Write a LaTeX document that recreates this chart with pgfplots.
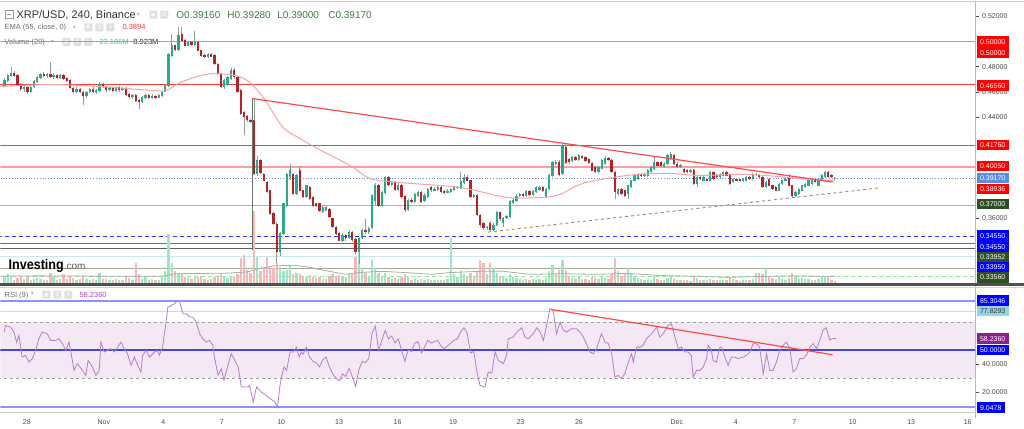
\documentclass[border=0pt]{standalone}
\usepackage{fontspec}
\setmainfont{Liberation Sans}
\newfontfamily\dejavu{DejaVu Sans}
\usepackage{graphicx}
\usepackage{pgfplots}
\usepackage{pgfplotstable}
\pgfplotsset{compat=1.18}

\definecolor{upc}{HTML}{2BAA8A}
\definecolor{dnc}{HTML}{B3232A}
\definecolor{wickc}{HTML}{8E9E8E}
\definecolor{volup}{HTML}{A3E4C8}
\definecolor{voldn}{HTML}{F6B9B9}
\definecolor{emac}{HTML}{F5A3A3}
\definecolor{trendred}{HTML}{FF4A4A}
\definecolor{hred}{HTML}{FF3C3C}
\definecolor{hblue}{HTML}{3535FF}
\definecolor{hgreen}{HTML}{A9B5A0}
\definecolor{hdkgreen}{HTML}{56665A}
\definecolor{hcyan}{HTML}{C6EAF2}
\definecolor{hgreentwo}{HTML}{A3AE9A}
\definecolor{hlime}{HTML}{8CF08C}
\definecolor{dotblue}{HTML}{6A84F0}
\definecolor{tickc}{HTML}{4A4A4A}
\definecolor{axc}{HTML}{B8B8B8}
\definecolor{rsifill}{HTML}{F3E8F3}
\definecolor{rsic}{HTML}{B77DCB}
\definecolor{rsiblue}{HTML}{8F8FFF}
\definecolor{rsimid}{HTML}{4545DD}
\definecolor{boxred}{HTML}{FF0000}
\definecolor{boxblue}{HTML}{0000FF}
\definecolor{boxlblue}{HTML}{5C8BE0}
\definecolor{boxgreen}{HTML}{2F4F22}
\definecolor{boxpurple}{HTML}{8E1F8E}
\definecolor{boxcyan}{HTML}{8FD5E2}
\definecolor{legc}{HTML}{6B6B6B}
\definecolor{ohlcc}{HTML}{3E7F3E}
\definecolor{iconc}{HTML}{E0E0E0}
\definecolor{sepc}{HTML}{505050}

% 4h candles: open close high low volume(M)
\pgfplotstableread{
o c h l v
0.4650 0.4689 0.4710 0.4640 20
0.4689 0.4729 0.4745 0.4680 30
0.4729 0.4750 0.4795 0.4720 25
0.4750 0.4730 0.4765 0.4720 12
0.4730 0.4660 0.4740 0.4650 18
0.4660 0.4625 0.4670 0.4605 26
0.4625 0.4640 0.4650 0.4600 14
0.4640 0.4600 0.4650 0.4585 20
0.4600 0.4640 0.4650 0.4590 12
0.4640 0.4680 0.4690 0.4630 15
0.4680 0.4715 0.4725 0.4670 18
0.4715 0.4740 0.4750 0.4705 14
0.4740 0.4725 0.4760 0.4715 10
0.4725 0.4740 0.4750 0.4710 12
0.4740 0.4720 0.4835 0.4710 33
0.4720 0.4735 0.4750 0.4705 22
0.4735 0.4715 0.4745 0.4705 12
0.4715 0.4730 0.4745 0.4705 15
0.4730 0.4705 0.4740 0.4695 30
0.4705 0.4690 0.4720 0.4680 14
0.4690 0.4630 0.4700 0.4620 25
0.4630 0.4600 0.4640 0.4590 18
0.4600 0.4620 0.4635 0.4590 10
0.4620 0.4600 0.4630 0.4590 14
0.4600 0.4565 0.4610 0.4492 28
0.4565 0.4600 0.4610 0.4555 16
0.4600 0.4620 0.4630 0.4590 12
0.4620 0.4600 0.4635 0.4590 14
0.4600 0.4610 0.4625 0.4585 10
0.4610 0.4660 0.4675 0.4600 36
0.4660 0.4640 0.4670 0.4630 15
0.4640 0.4615 0.4650 0.4600 14
0.4615 0.4630 0.4645 0.4605 10
0.4630 0.4605 0.4640 0.4595 12
0.4605 0.4635 0.4645 0.4595 14
0.4635 0.4615 0.4645 0.4600 10
0.4615 0.4625 0.4640 0.4605 12
0.4625 0.4580 0.4635 0.4570 20
0.4580 0.4560 0.4590 0.4545 18
0.4560 0.4575 0.4585 0.4540 12
0.4575 0.4530 0.4580 0.4520 66
0.4530 0.4520 0.4545 0.4465 30
0.4520 0.4555 0.4565 0.4510 15
0.4555 0.4570 0.4580 0.4545 25
0.4570 0.4550 0.4585 0.4540 12
0.4550 0.4565 0.4580 0.4545 14
0.4565 0.4555 0.4575 0.4545 10
0.4555 0.4570 0.4580 0.4550 12
0.4570 0.4600 0.4610 0.4560 20
0.4600 0.4650 0.4665 0.4595 40
0.4650 0.4901 0.4910 0.4640 162
0.4888 0.4967 0.5059 0.4880 66
0.4967 0.4930 0.4975 0.4920 40
0.4930 0.5046 0.5112 0.4925 36
0.5060 0.5007 0.5112 0.5000 30
0.5007 0.4967 0.5015 0.4960 20
0.4967 0.4990 0.5000 0.4960 18
0.4990 0.4975 0.5000 0.4965 15
0.4975 0.4993 0.5085 0.4965 22
0.4993 0.4928 0.5000 0.4920 20
0.4928 0.4888 0.4935 0.4880 25
0.4888 0.4880 0.4900 0.4870 15
0.4880 0.4900 0.4910 0.4870 12
0.4900 0.4880 0.4910 0.4875 14
0.4890 0.4822 0.4900 0.4815 22
0.4822 0.4743 0.4830 0.4735 28
0.4743 0.4637 0.4750 0.4630 35
0.4637 0.4690 0.4700 0.4625 20
0.4660 0.4716 0.4725 0.4650 18
0.4703 0.4775 0.4785 0.4695 25
0.4775 0.4716 0.4785 0.4705 20
0.4716 0.4597 0.4725 0.4590 30
0.4610 0.4426 0.4620 0.4420 85
0.4440 0.4400 0.4450 0.4254 95
0.4410 0.4375 0.4420 0.4360 43
0.4375 0.4360 0.4385 0.4350 35
0.4373 0.3953 0.4547 0.3940 238
0.3953 0.4060 0.4090 0.3930 86
0.4060 0.3960 0.4070 0.3950 40
0.3950 0.3898 0.3960 0.3890 50
0.3884 0.3805 0.3895 0.3795 86
0.3818 0.3634 0.3825 0.3625 53
0.3634 0.3554 0.3645 0.3545 50
0.3554 0.3330 0.3565 0.3240 66
0.3330 0.3475 0.3485 0.3300 55
0.3475 0.3713 0.3720 0.3465 40
0.3700 0.3950 0.3960 0.3690 45
0.3924 0.3977 0.4030 0.3900 60
0.3950 0.3792 0.3960 0.3780 30
0.3792 0.3937 0.3945 0.3785 35
0.3977 0.3818 0.4010 0.3810 30
0.3818 0.3766 0.3825 0.3755 25
0.3766 0.3858 0.3865 0.3760 20
0.3845 0.3752 0.3855 0.3745 28
0.3766 0.3700 0.3775 0.3690 22
0.3713 0.3700 0.3720 0.3690 18
0.3713 0.3660 0.3720 0.3650 20
0.3647 0.3686 0.3695 0.3640 15
0.3660 0.3686 0.3695 0.3655 14
0.3673 0.3607 0.3680 0.3600 22
0.3594 0.3528 0.3600 0.3520 30
0.3528 0.3475 0.3535 0.3465 25
0.3475 0.3422 0.3485 0.3415 28
0.3422 0.3460 0.3480 0.3410 20
0.3460 0.3440 0.3475 0.3420 22
0.3440 0.3490 0.3505 0.3430 30
0.3490 0.3430 0.3500 0.3410 35
0.3430 0.3330 0.3440 0.3317 86
0.3330 0.3440 0.3450 0.3238 100
0.3440 0.3505 0.3515 0.3430 50
0.3505 0.3490 0.3594 0.3475 35
0.3490 0.3520 0.3530 0.3475 25
0.3520 0.3780 0.3792 0.3510 79
0.3740 0.3860 0.3880 0.3700 50
0.3860 0.3700 0.3871 0.3690 35
0.3700 0.3800 0.3810 0.3686 25
0.3800 0.3920 0.3930 0.3790 33
0.3920 0.3860 0.3935 0.3850 20
0.3860 0.3880 0.3895 0.3850 15
0.3880 0.3820 0.3890 0.3810 18
0.3820 0.3860 0.3875 0.3810 14
0.3860 0.3770 0.3871 0.3760 22
0.3770 0.3665 0.3780 0.3650 30
0.3665 0.3740 0.3750 0.3655 20
0.3740 0.3730 0.3760 0.3720 12
0.3730 0.3790 0.3800 0.3720 15
0.3780 0.3800 0.3815 0.3770 12
0.3800 0.3730 0.3810 0.3720 14
0.3740 0.3780 0.3795 0.3730 12
0.3770 0.3830 0.3840 0.3760 15
0.3840 0.3820 0.3850 0.3805 10
0.3820 0.3830 0.3845 0.3810 12
0.3825 0.3840 0.3850 0.3815 10
0.3840 0.3810 0.3850 0.3800 12
0.3815 0.3800 0.3825 0.3790 10
0.3800 0.3815 0.3830 0.3795 14
0.3810 0.3830 0.3840 0.3800 150
0.3825 0.3840 0.3850 0.3815 30
0.3840 0.3845 0.3855 0.3830 20
0.3835 0.3890 0.3964 0.3830 40
0.3880 0.3925 0.3950 0.3870 30
0.3925 0.3898 0.3937 0.3890 22
0.3898 0.3770 0.3905 0.3760 35
0.3770 0.3780 0.3790 0.3760 20
0.3780 0.3625 0.3790 0.3615 40
0.3625 0.3545 0.3630 0.3530 76
0.3560 0.3520 0.3570 0.3505 66
0.3520 0.3530 0.3540 0.3505 30
0.3560 0.3510 0.3575 0.3490 66
0.3510 0.3545 0.3560 0.3500 50
0.3545 0.3645 0.3655 0.3535 35
0.3645 0.3590 0.3650 0.3580 25
0.3560 0.3600 0.3610 0.3525 20
0.3600 0.3610 0.3620 0.3590 18
0.3610 0.3735 0.3745 0.3600 30
0.3720 0.3740 0.3755 0.3710 20
0.3740 0.3775 0.3790 0.3730 18
0.3775 0.3790 0.3800 0.3765 14
0.3790 0.3780 0.3800 0.3770 12
0.3780 0.3815 0.3825 0.3770 15
0.3815 0.3785 0.3825 0.3775 12
0.3785 0.3810 0.3825 0.3775 14
0.3805 0.3840 0.3850 0.3800 12
0.3820 0.3840 0.3855 0.3815 15
0.3840 0.3815 0.3850 0.3805 12
0.3770 0.3830 0.3840 0.3760 18
0.3830 0.3935 0.3945 0.3820 40
0.3935 0.4040 0.4050 0.3925 60
0.4030 0.4045 0.4060 0.4020 30
0.4045 0.3940 0.4060 0.3930 43
0.3950 0.4175 0.4190 0.3940 76
0.4162 0.4035 0.4195 0.4025 43
0.4069 0.4043 0.4075 0.4030 25
0.4050 0.4080 0.4090 0.4040 18
0.4080 0.4060 0.4090 0.4050 15
0.4060 0.4096 0.4110 0.4050 20
0.4090 0.4075 0.4100 0.4065 14
0.4082 0.4056 0.4090 0.4045 15
0.4069 0.4040 0.4075 0.4030 12
0.4030 0.3977 0.4040 0.3970 20
0.4003 0.3964 0.4010 0.3955 18
0.3964 0.4000 0.4010 0.3955 15
0.3990 0.4056 0.4065 0.3985 22
0.4030 0.4075 0.4090 0.4020 18
0.4075 0.4060 0.4085 0.4050 15
0.4060 0.3963 0.4070 0.3955 30
0.3963 0.3805 0.3970 0.3752 83
0.3791 0.3830 0.3840 0.3780 40
0.3830 0.3791 0.3840 0.3780 25
0.3818 0.3778 0.3825 0.3770 30
0.3790 0.3857 0.3865 0.3752 50
0.3844 0.3897 0.3905 0.3835 30
0.3897 0.3937 0.3945 0.3890 22
0.3910 0.3950 0.3960 0.3900 18
0.3950 0.3937 0.3960 0.3925 14
0.3937 0.3950 0.3960 0.3925 12
0.3937 0.3976 0.3985 0.3925 15
0.3963 0.4003 0.4010 0.3955 12
0.3989 0.4042 0.4095 0.3980 25
0.4042 0.4016 0.4050 0.4010 15
0.4042 0.4016 0.4055 0.4005 12
0.4003 0.4029 0.4040 0.3995 10
0.4029 0.4095 0.4105 0.4020 18
0.4069 0.4108 0.4121 0.4060 20
0.4095 0.4029 0.4105 0.4020 15
0.4029 0.4003 0.4040 0.3995 12
0.4003 0.4016 0.4025 0.3995 10
0.3989 0.3963 0.3995 0.3955 12
0.3976 0.3963 0.3985 0.3955 10
0.3963 0.3976 0.3985 0.3955 8
0.3976 0.3871 0.3985 0.3860 25
0.3871 0.3923 0.3930 0.3844 18
0.3923 0.3910 0.3930 0.3900 10
0.3897 0.3923 0.3930 0.3890 12
0.3910 0.3897 0.3920 0.3890 10
0.3897 0.3963 0.3970 0.3890 15
0.3963 0.3910 0.3970 0.3900 12
0.3937 0.3923 0.3945 0.3915 10
0.3923 0.3950 0.3960 0.3915 12
0.3937 0.3963 0.3970 0.3930 10
0.3963 0.3937 0.3970 0.3930 12
0.3950 0.3871 0.3960 0.3865 20
0.3884 0.3910 0.3920 0.3875 14
0.3910 0.3897 0.3915 0.3890 10
0.3910 0.3897 0.3915 0.3890 8
0.3897 0.3910 0.3920 0.3885 10
0.3897 0.3923 0.3930 0.3890 12
0.3923 0.3910 0.3930 0.3905 10
0.3910 0.3950 0.3960 0.3905 15
0.3940 0.3950 0.3960 0.3930 36
0.3937 0.3923 0.3945 0.3915 36
0.3923 0.3844 0.3935 0.3835 30
0.3844 0.3884 0.3895 0.3835 50
0.3910 0.3857 0.3920 0.3850 25
0.3857 0.3831 0.3865 0.3825 18
0.3844 0.3818 0.3850 0.3810 15
0.3818 0.3871 0.3880 0.3810 20
0.3871 0.3897 0.3905 0.3865 15
0.3897 0.3910 0.3920 0.3890 12
0.3923 0.3857 0.3950 0.3850 18
0.3857 0.3778 0.3865 0.3765 33
0.3778 0.3805 0.3810 0.3770 20
0.3791 0.3831 0.3840 0.3785 15
0.3818 0.3857 0.3865 0.3810 18
0.3844 0.3871 0.3880 0.3835 14
0.3857 0.3897 0.3905 0.3850 15
0.3871 0.3897 0.3905 0.3865 12
0.3897 0.3884 0.3905 0.3875 10
0.3857 0.3897 0.3905 0.3850 14
0.3897 0.3937 0.3945 0.3890 22
0.3923 0.3963 0.3975 0.3915 26
0.3963 0.3923 0.3970 0.3915 26
0.3937 0.3923 0.3945 0.3915 12
0.3916 0.3917 0.3928 0.3900 9
}\candles

\newcommand{\pbox}[4]{\node[anchor=west, fill=#2, text=#3, font=\fontsize{7}{8}\selectfont, inner xsep=3.2pt, inner ysep=2.7pt, text height=5.1pt, text depth=0pt] at (977,#1) {#4};}
\newcommand{\icon}[3]{\fill[iconc, rounded corners=1pt] (#1,#2) rectangle ++(8,8); \node[text=white, font=\dejavu\fontsize{5.5}{6}\selectfont, inner sep=0] at (#1+4,#2+4) {#3};}

\begin{document}
\begin{tikzpicture}[x=1pt,y=1pt]
\fill[white] (0,0) rectangle (1024,428);

% ---------- legend texts (drawn under the lines) ----------
\draw[gray!80, line width=0.6pt] (4.5,410) rectangle (12.5,418);
\draw[gray!80, line width=0.6pt] (6.5,414) -- (10.5,414);
\node[anchor=base west, inner sep=0, font=\fontsize{11}{12}\selectfont, text=black!80] at (16,409.7) {XRP/USD, 240, Binance};
\node[inner sep=0, text=gray!60, font=\dejavu\fontsize{6}{6}\selectfont] at (138,414) {▾};
\icon{149}{410}{◉}\icon{160}{410}{⚙}
\node[anchor=base west, inner sep=0, font=\fontsize{10}{12}\selectfont, text=ohlcc] at (176,409.7) {O0.39160};
\node[anchor=base west, inner sep=0, font=\fontsize{10}{12}\selectfont, text=ohlcc] at (227,409.7) {H0.39280};
\node[anchor=base west, inner sep=0, font=\fontsize{10}{12}\selectfont, text=ohlcc] at (277,409.7) {L0.39000};
\node[anchor=base west, inner sep=0, font=\fontsize{10}{12}\selectfont, text=ohlcc] at (328,409.7) {C0.39170};

\node[anchor=base west, inner sep=0, font=\fontsize{7.5}{9}\selectfont, text=legc] at (4,398.7) {EMA (55, close, 0)};
\node[inner sep=0, text=gray!60, font=\dejavu\fontsize{6}{6}\selectfont] at (74,401) {▾};
\icon{84}{397.3}{◉}\icon{95}{397.3}{⚙}\icon{106}{397.3}{✕}
\node[anchor=base west, inner sep=0, font=\fontsize{7.5}{9}\selectfont, text=hred] at (122,398.7) {0.3894};

\node[anchor=base west, inner sep=0, font=\fontsize{7.5}{9}\selectfont, text=legc] at (4,383.7) {Volume (20)};
\node[inner sep=0, text=gray!60, font=\dejavu\fontsize{6}{6}\selectfont] at (52,387) {▾};
\icon{62}{382.7}{◉}\icon{73}{382.7}{⚙}\icon{84}{382.7}{✕}
\node[anchor=base west, inner sep=0, font=\fontsize{7.5}{9}\selectfont, text=upc!80] at (99,383.7) {23.186M};
\node[anchor=base west, inner sep=0, font=\fontsize{7.5}{9}\selectfont, text=black!85] at (133,383.7) {8.923M};

\node[anchor=base west, inner sep=0, font=\fontsize{7.5}{9}\selectfont, text=legc] at (4,130.7) {RSI (9)};
\node[inner sep=0, text=gray!60, font=\dejavu\fontsize{6}{6}\selectfont] at (32,134) {▾};
\icon{42}{129.7}{◉}\icon{53}{129.7}{⚙}\icon{64}{129.7}{✕}
\node[anchor=base west, inner sep=0, font=\fontsize{7.5}{9}\selectfont, text=boxpurple!80] at (79,130.7) {58.2360};

% ---------- price panel: axis with level lines ----------
\begin{axis}[
  at={(0pt,145pt)}, anchor=south west,
  width=976pt, height=283pt, scale only axis,
  xmin=-1.22, xmax=295.9, ymin=0.30812, ymax=0.53228,
  axis line style={draw=none},
  xtick=\empty,
  ytick={0.36,0.44,0.46,0.48,0.52},
  ytick pos=right, yticklabel pos=right,
  tick align=outside, major tick length=3pt,
  ytick style={draw=tickc, line width=0.5pt},
  yticklabel={\pgfmathprintnumber[fixed,fixed zerofill,precision=5,assume math mode=true]{\tick}},
  yticklabel style={font=\fontsize{7}{8}\selectfont, text=tickc},
]
\addplot[hred!70, line width=1.6pt, mark=none] coordinates {(-2,0.5000) (300,0.5000)};
\addplot[hred, line width=1.4pt, mark=none] coordinates {(-2,0.4656) (300,0.4656)};
\addplot[hred, line width=1.4pt, mark=none] coordinates {(-2,0.4176) (300,0.4176)};
\addplot[hred!50, line width=1.8pt, mark=none] coordinates {(-2,0.4005) (300,0.4005)};
\addplot[dotblue, line width=0.8pt, dotted, mark=none] coordinates {(-2,0.3917) (300,0.3917)};
\addplot[hgreen, line width=1.6pt, mark=none] coordinates {(-2,0.3700) (300,0.3700)};
\addplot[hblue, line width=1.2pt, dash pattern=on 4pt off 3pt, mark=none] coordinates {(-2,0.3455) (300,0.3455)};
\addplot[hblue!80, line width=1.2pt, mark=none] coordinates {(-2,0.3395) (300,0.3395)};
\addplot[hdkgreen, line width=1pt, mark=none] coordinates {(-2,0.3356) (300,0.3356)};
\addplot[hcyan, line width=1.6pt, mark=none] coordinates {(-2,0.3295) (300,0.3295)};
\addplot[hgreentwo, line width=1.4pt, mark=none] coordinates {(-2,0.3200) (300,0.3200)};
\addplot[hlime, line width=1.2pt, dash pattern=on 4pt off 3pt, mark=none] coordinates {(-2,0.3137) (300,0.3137)};
\end{axis}

% ---------- volume ----------
\begin{axis}[
  at={(0pt,145pt)}, anchor=south west,
  width=976pt, height=283pt, scale only axis,
  xmin=-1.22, xmax=295.9, ymin=0, ymax=934, hide axis]
\addplot[ycomb, mark=none, draw=volup, line width=2.3pt] table[x expr=\coordindex, y expr={\thisrow{c}>=\thisrow{o} ? \thisrow{v} : nan}] {\candles};
\addplot[ycomb, mark=none, draw=voldn, line width=2.3pt] table[x expr=\coordindex, y expr={\thisrow{c}<\thisrow{o} ? \thisrow{v} : nan}] {\candles};
\addplot[gray!65, line width=0.8pt, mark=none] coordinates {
(-1.2,24) (10,25) (30,24) (48,24) (52,32) (60,33) (68,34) (74,38) (78,50) (82,58) (88,60) (92,55) (98,42) (104,30) (108,36) (115,40) (122,36) (130,30) (136,36) (145,40) (152,40) (160,30) (170,32) (180,30) (190,33) (200,26) (210,24) (220,20) (230,23) (240,25) (253,23.2)};
\end{axis}

% ---------- candles, EMA, trend lines ----------
\begin{axis}[
  at={(0pt,145pt)}, anchor=south west,
  width=976pt, height=283pt, scale only axis,
  xmin=-1.22, xmax=295.9, ymin=0.30812, ymax=0.53228, hide axis]
\addplot[hdkgreen!90, line width=0.9pt, mark=none] coordinates {(75.5,0.4547) (75.5,0.3343)};
\addplot[draw=none, mark=none,
  error bars/.cd, y dir=both, y explicit, error mark=none,
  error bar style={draw=wickc, line width=0.7pt}]
  table[x expr=\coordindex, y expr={(\thisrow{h}+\thisrow{l})/2}, y error expr={(\thisrow{h}-\thisrow{l})/2}] {\candles};
\addplot[draw=none, mark=none,
  error bars/.cd, y dir=both, y explicit, error mark=none,
  error bar style={draw=upc, line width=2.3pt}]
  table[x expr=\coordindex, y expr={\thisrow{c}>=\thisrow{o} ? (\thisrow{o}+\thisrow{c})/2 : nan}, y error expr={abs(\thisrow{c}-\thisrow{o})/2+0.0002}] {\candles};
\addplot[draw=none, mark=none,
  error bars/.cd, y dir=both, y explicit, error mark=none,
  error bar style={draw=dnc, line width=2.3pt}]
  table[x expr=\coordindex, y expr={\thisrow{c}<\thisrow{o} ? (\thisrow{o}+\thisrow{c})/2 : nan}, y error expr={abs(\thisrow{c}-\thisrow{o})/2+0.0002}] {\candles};
\addplot[emac, line width=1pt, smooth, mark=none] coordinates {
(-1.22,0.4642) (14.0,0.4658) (29.2,0.4642) (41.4,0.4618) (49.0,0.4610) (53.6,0.4674) (59.7,0.4729) (64.2,0.4745) (70.3,0.4729) (74.9,0.4674) (79.5,0.4531) (84.9,0.4317) (90.1,0.4230) (95.3,0.4151) (105.3,0.4016) (111.4,0.3913) (120.5,0.3881) (138.8,0.3842) (153.1,0.3763) (164.1,0.3763) (169.3,0.3787) (176.3,0.3874) (189.6,0.3937) (201.8,0.3953) (211.9,0.3937) (227.1,0.3945) (242.3,0.3913) (253,0.3894)};
\addplot[trendred, line width=1.2pt, mark=none] coordinates {(75.5,0.4547) (252.4,0.3885)};
\addplot[gray!80!olive, line width=0.9pt, dash pattern=on 3pt off 3pt, mark=none] coordinates {(147.3,0.3488) (266.7,0.3839)};
\end{axis}

% ---------- RSI panel ----------
\begin{axis}[
  at={(0pt,16pt)}, anchor=south west,
  width=976pt, height=125pt, scale only axis,
  xmin=-1.22, xmax=295.9, ymin=5.5, ymax=94.8,
  axis line style={draw=none},
  ytick={20,40}, ytick pos=right, yticklabel pos=right,
  tick align=outside, major tick length=3pt,
  ytick style={draw=tickc, line width=0.5pt},
  yticklabel={\pgfmathprintnumber[fixed,fixed zerofill,precision=4,assume math mode=true]{\tick}},
  yticklabel style={font=\fontsize{7}{8}\selectfont, text=tickc},
  xtick={6.85,30.29,48.40,66.21,84.32,101.98,119.79,136.68,157.23,175.04,204.87,222.83,240.64,258.45,276.26,293.46},
  xticklabels={28,Nov,4,7,10,13,16,19,23,26,Dec,4,7,10,13,16},
  xtick pos=left,
  xtick style={draw=none},
  xticklabel style={font=\fontsize{7}{8}\selectfont, text=tickc, yshift=-1pt},
]
\fill[rsifill] (axis cs:-1.22,30) rectangle (axis cs:295.9,70);
\addplot[gray!75, line width=0.8pt, dash pattern=on 3pt off 3pt, mark=none] coordinates {(-2,70) (300,70)};
\addplot[gray!75, line width=0.8pt, dash pattern=on 3pt off 3pt, mark=none] coordinates {(-2,30) (300,30)};
\addplot[rsiblue, line width=1.6pt, mark=none] coordinates {(-2,85.3046) (300,85.3046)};
\addplot[hcyan!80!cyan, line width=1.2pt, mark=none] coordinates {(-2,77.8293) (300,77.8293)};
\addplot[rsimid, line width=1.3pt, mark=none] coordinates {(-2,50) (300,50)};
\addplot[rsiblue, line width=2pt, mark=none] coordinates {(-2,9.0478) (300,9.0478)};
\addplot[rsic, line width=0.8pt, mark=none] coordinates {
(0,63.0)(0.3,67.6)(1.9,66.4)(2.9,62.9)(3.7,55.7)(4.4,60.5)(5.4,45.0)(6.4,46.2)(7.5,41.4)(8.5,43.9)(9.5,49.8)(10.5,58.1)(11.5,62.9)(13.1,61.7)(14.1,56.9)(15.6,56.9)(16.6,58.1)(17.7,54.6)(18.7,49.8)(19.7,55.7)(20.7,42.6)(21.2,35.5)(22.2,40.3)(23.8,35.5)(24.8,31.9)(25.5,42.6)(26.8,37.9)(27.9,31.9)(28.9,35.5)(29.4,55.7)(30.4,48.6)(31.4,49.8)(32.4,51.0)(33.5,48.6)(34.5,52.1)(35.5,55.7)(36.5,51.0)(37.5,47.4)(38.6,39.1)(39.6,45.0)(40.6,39.1)(41.6,34.3)(42.1,46.2)(43.1,49.8)(44.2,45.0)(45.7,48.6)(46.7,49.8)(47.2,46.2)(48.2,52.1)(49.3,71.2)(49.8,80.7)(50.8,81.9)(51.8,83.1)(52.8,85.3)(53.3,84.8)(54.4,76.0)(55.4,76.0)(56.4,73.6)(57.4,73.6)(58.4,70.0)(59.5,61.7)(60.5,58.1)(61.5,55.7)(62.5,56.9)(63.5,53.4)(64.0,45.0)(65.1,31.9)(66.1,36.7)(66.9,28.4)(68.1,39.1)(69.1,47.4)(70.2,42.6)(71.2,37.9)(72.2,23.6)(74.2,23.6)(74.7,24.8)(75.8,12.9)(76.8,23.6)(78.3,20.0)(80.4,16.4)(82.4,12.9)(83.2,9.05)(83.9,23.6)(84.4,30.7)(85.2,37.9)(86.0,35.5)(87.0,48.6)(88.0,48.6)(89.0,52.1)(89.8,45.0)(90.5,48.6)
(91,47)(92,52)(93,45)(94,42)(95,41)(96,38)(97,43)(98,45)(99,38)(100,33)(101,30)(102,28)(103,33)(104,31)(105,37)(106,31)(107,24)(108,36)(109,42)(110,41)(111,44)(112,62)(113,67)(114,50)(115,57)(116,64)(117,58)(118,60)(119,55)(120,58)(121,50)(122,42)(123,50)(124,49)(125,55)(126,56)(127,48)(128,52)(129,57)(130,55)(131,56)(132,57)(133,53)(134,51)(135,53)(136,55)(137,57)(138,58)(139,63)(140,66)(141,62)(142,48)(143,49)(144,34)
(144.9,24.8)(146.4,23.6)(147.4,34.3)(148.5,33.6)(149.5,48.6)(150.5,42.6)(152.0,40.3)(153.0,46.2)(153.5,58.1)(155.0,59.3)(156.1,62.9)(157.6,66.0)(158.6,59.3)(159.6,58.1)(161.1,61.7)(162.2,66.0)(163.2,62.9)(164.2,56.9)(165.2,67.6)(166.2,79.6)(167.2,78.4)(168.2,61.7)(169.3,70.0)(170.3,64.1)(171.3,62.9)(172.8,65.3)(174.3,65.3)(175.3,62.9)(176.4,59.3)(178.4,48.6)(179.4,47.4)(180.4,51.0)(180.9,54.6)(181.9,61.7)(183.0,55.7)(184.0,54.6)(185.0,47.4)(186.0,30.7)(187.0,31.9)(188.0,29.6)(189.0,33.1)(190.1,41.4)(191.1,47.4)(191.6,41.4)(192.6,52.1)(193.6,52.1)(194.6,53.4)(195.6,58.1)(197.2,61.7)(198.7,66.4)(199.7,59.3)(200.7,61.7)(202.2,67.6)(203.2,68.8)(204.3,59.3)(205.3,51.0)(206.3,52.1)(207.3,48.6)(208.3,48.6)(209.3,46.2)(209.8,30.7)(210.9,35.5)(211.9,35.5)(212.9,37.9)(213.9,43.9)(214.4,53.4)(215.4,49.8)(215.9,42.6)(216.9,41.4)(218.0,52.1)(218.5,52.1)(219.5,45.0)(220.5,39.1)(221.5,45.0)(222.5,45.0)(223.5,43.9)(225.1,45.0)(226.1,46.2)(227.1,48.6)(228.1,54.6)(229.1,54.6)(230.1,52.1)(231.2,33.1)(232.2,47.4)(233.2,35.5)(234.2,35.5)(235.2,41.4)(236.2,49.8)(237.2,53.4)(238.3,55.7)(239.3,51.0)(240.3,34.3)(241.3,36.7)(242.3,43.9)(243.3,43.9)(244.3,46.2)(245.4,52.1)(246.4,54.6)(247.4,51.0)(248.4,56.9)(249.4,64.1)(250.4,66.0)(251.4,57.4)(252.5,58.2)(253.5,58.24)};
\addplot[trendred, line width=1.2pt, mark=none] coordinates {(166.5,79.1) (252.3,46.7)};
\end{axis}

% ---------- frame lines ----------
\draw[axc, line width=1.3pt] (976,10) -- (976,428);
\draw[axc!70, line width=0.8pt] (0,427.6) -- (1024,427.6);
\draw[axc!70, line width=0.6pt] (0,16) -- (976,16);

% ---------- right-side value boxes ----------
\pbox{387}{boxred}{white}{0.50000}
\pbox{376}{boxred}{white}{0.50000}
\pbox{343}{boxred}{white}{0.46560}
\pbox{283.5}{boxred}{white}{0.41760}
\pbox{262.3}{boxred}{white}{0.40050}
\pbox{250.7}{boxlblue}{white}{0.39170}
\pbox{239.3}{boxred}{white}{0.38936}
\pbox{224.7}{boxgreen}{white}{0.37000}
\pbox{193}{boxblue}{white}{0.34550}
\pbox{182}{boxblue}{white}{0.34550}
\pbox{171.7}{boxgreen}{white}{0.33952}
\pbox{161}{boxblue}{white}{0.33950}
\pbox{151}{boxgreen}{white}{0.33560}

\pbox{127.7}{boxblue}{white}{85.3046}
\pbox{117.3}{boxcyan}{black!80}{77.8293}
\pbox{89.7}{boxpurple}{white}{58.2360}
\pbox{78.3}{boxblue}{white}{50.0000}
\pbox{20.7}{boxblue}{white}{9.0478}

% ---------- panel separator ----------
\fill[sepc] (0,142.3) rectangle (1024,145.3);
\draw[axc!60, line width=0.6pt] (0,141.6) -- (1024,141.6);

% ---------- Investing.com logo ----------
\node[anchor=base west, inner sep=0] at (8,158.5) {\scalebox{0.9}[1]{\fontsize{14}{14}\selectfont\bfseries Investing}\fontsize{10}{10}\selectfont\color{black!65}.com};
\end{tikzpicture}
\end{document}
